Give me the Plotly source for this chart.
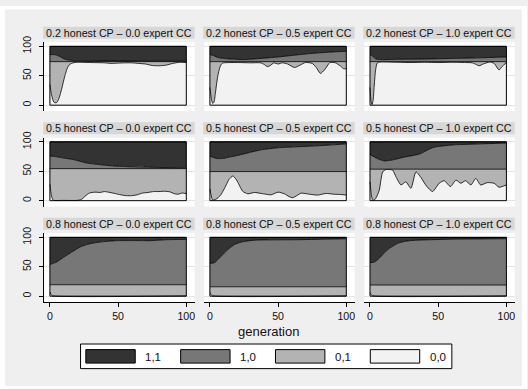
import plotly.graph_objects as go

# ---------------- data (cumulative shares) ----------------
series_names = ["1,1", "1,0", "0,1", "0,0"]
series_colors = ["#333333", "#777777", "#b3b3b3", "#f2f2f2"]
honest_levels = ["0.2", "0.5", "0.8"]
expert_levels = ["0.0", "0.5", "1.0"]
x_ticks = [0, 50, 100]
y_ticks = [0, 50, 100]

# a = top of "0,0"; b = top of "0,1"; c = top of "1,0"; top of "1,1" = 100
p1_gen_a = [0,1,2,3,4,5,6,7,8,9,10,11,12,13,14,15,17,20,30,40,45,50,55,60,65,70,75,80,85,90,95,100]
p1_a = [35,20,10,5,4,4.5,8,14,22,31,41,50,58,64,68,70,72,73,72.5,72,71,71.5,72,72,71,70,67.5,67,68,71,73,72.5]
p1_b = [74, 74]
p1_gen_c = [0,3,5,8,10,13,16,20,100]
p1_c = [86,86,85,82,79,77,76,75.5,75.5]

p2_gen_a = [0,1,2,3,4,5,6,7,8,9,10,20,30,37,40,42,44,47,50,53,57,62,66,70,75,78,81,84,88,92,96,98,100]
p2_a = [30,12,3,5,20,38,52,62,68,71,72,72.5,72,72,69,65.5,67,72,70,72,70,64,68,72.5,71,64,54,60,72.5,72,66,62,62]
p2_b = [74, 74]
p2_gen_c = [0,3,6,10,15,25,40,50,60,70,80,90,100]
p2_c = [86,84,81,79.5,78.5,77.6,80,82,84.5,87,89,90.5,91.6]

p3_gen_a = [0,0.7,1.5,2.3,3,4,5,6,20,30,40,50,60,70,75,78,80,83,88,91,94.6,97,100]
p3_a = [30,8,1,8,30,58,70,73,73,72.5,73,72.5,73,72.5,72,69,67,70,73.5,71,60,66,72.5]
p3_b = [74, 74]
p3_gen_c = [0,2,4,7,20,40,60,80,100]
p3_c = [86,83,79,77.6,78,78.5,79.5,80.5,82]

p4_gen_a = [0,1,2,3,10,20,23,26,29,33,37,40,44,48,52,56,60,64,68,72,76,80,84,88,91,94,97,100]
p4_a = [28,10,2,0.5,0.5,0.5,2,8,13,14.5,14,15.5,14,12,10,8.5,8.5,10,13,14,15.5,15.5,16,15,12,11,13,12]
p4_b = [54.5, 54.5]
p4_gen_c = [0,4,10,17,22,27,34,41.5,50,61,70,80.5,100]
p4_c = [76,75,72.5,70,67,64,62,60,58.5,57.5,57,56.4,55.8]

p5_gen_a = [0,1,2,4,6,8,10,12,14,16.8,19,21,24,27.8,32.7,37.6,41,44.9,50,54.6,58,60.7,64,66.8,73,79,85,91,96,100]
p5_a = [20,8,1,2,5,10,18,27,36,42,37,29,16,11.7,14,12.3,11,10,14.5,11.7,7,5,9,12.8,11,9.5,12.3,11,10.5,9.5]
p5_b = [49.5, 49.5]
p5_gen_c = [0,3,6,10,15,20.5,30,37.6,50,62,74,87,100]
p5_c = [76,73,71.5,72,74.5,77,82.5,86.5,90,91.5,92.7,94.5,96.6]

p6_gen_a = [0,1,2,4,6.8,8,9.3,11.7,14,16.6,19,22.7,26.3,30,33.7,37.3,41.7,45.9,50.7,54.4,59,63,66.6,70,74,77.6,81,86,91,94.6,100]
p6_a = [32,10,0.5,3,18,35,49,53,53,52,40.8,26.8,32,21,49,39.6,24,15.6,29.6,34,24,35,29.6,34,26.8,38,26.8,30.7,29.6,22.9,26.8]
p6_b = [53.6, 53.6]
p6_gen_c = [0,5,10.5,18,25,32,37,42,47,55,62,81,100]
p6_c = [78.7,72,67.6,70,74,77,80,86,91,93.5,95,96.6,98]

p7_gen_a = [0,1,2,100]
p7_a = [7,2,0.5,0.5]
p7_b = [19.5, 19.5]
p7_gen_c = [0,2,4.9,8,12,16,19.5,23,27,31,36.6,42,48.8,60,73,80,85,100]
p7_c = [54,55.5,58,63,69,75,80,84.5,87.7,90,92,93.3,94.4,94.6,94.4,95.3,96,96.6]

p8_gen_a = [0,1,2,100]
p8_a = [6,2,0.5,0.5]
p8_b = [16, 16]
p8_gen_c = [0,3.4,7,10.7,14,18,23,28,35,62,86,100]
p8_c = [55.8,57,65,73.7,81,87.7,92,94,95.5,96,97,97.7]

p9_gen_a = [0,1,2,100]
p9_a = [6,2,0.5,0.5]
p9_b = [19, 19]
p9_gen_c = [0,3.2,7,10.5,14,17.8,21,25,30,37,62,100]
p9_c = [57,58,65,73.7,81,86.5,90.5,93,94.5,95.5,97,97.7]

gen_span = [0, 100]
top_level = [100, 100]

gen_a_list = [p1_gen_a, p2_gen_a, p3_gen_a, p4_gen_a, p5_gen_a, p6_gen_a, p7_gen_a, p8_gen_a, p9_gen_a]
a_list = [p1_a, p2_a, p3_a, p4_a, p5_a, p6_a, p7_a, p8_a, p9_a]
b_list = [p1_b, p2_b, p3_b, p4_b, p5_b, p6_b, p7_b, p8_b, p9_b]
gen_c_list = [p1_gen_c, p2_gen_c, p3_gen_c, p4_gen_c, p5_gen_c, p6_gen_c, p7_gen_c, p8_gen_c, p9_gen_c]
c_list = [p1_c, p2_c, p3_c, p4_c, p5_c, p6_c, p7_c, p8_c, p9_c]

# ---------------- layout geometry (pixels) ----------------
W, H = 528, 389
FONT = "Liberation Sans, Arial, sans-serif"
col_left = [44.3, 204.6, 365.0]
col_w = 150.7
row_top = [36.7, 133.7, 230.7]
row_h = 70.0
x_range = [-4.17, 106.1]
y_range = [-10.0, 107.2]


def fx(p):
    return p / W


def fy(p):
    return 1 - p / H


fig = go.Figure()
shapes = []
annotations = []
layout_axes = {}

edge = dict(color="black", width=0.8)
for i in range(9):
    r, c = divmod(i, 3)
    n = "" if i == 0 else str(i + 1)
    xa, ya = "x" + n, "y" + n
    common = dict(xaxis=xa, yaxis=ya, mode="lines", hoverinfo="skip", showlegend=False)
    fig.add_trace(go.Scatter(x=gen_a_list[i], y=a_list[i], fill="tozeroy",
                             fillcolor=series_colors[3], line=dict(shape="spline", smoothing=0.6, **edge), **common))
    fig.add_trace(go.Scatter(x=gen_span, y=b_list[i], fill="tonexty",
                             fillcolor=series_colors[2], line=edge, **common))
    fig.add_trace(go.Scatter(x=gen_c_list[i], y=c_list[i], fill="tonexty",
                             fillcolor=series_colors[1], line=dict(shape="spline", smoothing=0.6, **edge), **common))
    fig.add_trace(go.Scatter(x=gen_span, y=top_level, fill="tonexty",
                             fillcolor=series_colors[0], line=edge, **common))
    shapes.append(dict(type="rect", xref=xa, yref=ya, x0=gen_span[0], x1=gen_span[1],
                       y0=0, y1=top_level[0], line=dict(color="black", width=1), layer="above"))

    left, top = col_left[c], row_top[r]
    xd = [fx(left), fx(left + col_w)]
    yd = [fy(top + row_h), fy(top)]
    bottom_row = r == 2
    left_col = c == 0
    layout_axes["xaxis" + n] = dict(
        domain=xd, range=x_range, anchor=ya, showgrid=False, zeroline=False,
        showline=bottom_row, linecolor="black", linewidth=1,
        ticks="outside" if bottom_row else "", ticklen=4, tickcolor="black", tickwidth=1,
        tickvals=x_ticks, showticklabels=bottom_row,
        tickfont=dict(family=FONT, size=10.6, color="#111111"), fixedrange=True)
    layout_axes["yaxis" + n] = dict(
        domain=yd, range=y_range, anchor=xa, showgrid=True, gridcolor="#e4e4e4", gridwidth=1,
        zeroline=False, showline=left_col, linecolor="black", linewidth=1,
        ticks="outside" if left_col else "", ticklen=4, tickcolor="black", tickwidth=1,
        tickvals=y_ticks, showticklabels=left_col, tickangle=-90, ticklabelstandoff=4,
        tickfont=dict(family=FONT, size=10.6, color="#111111"), fixedrange=True)

    # strip title
    s_top, s_bot = top - 15.7, top - 3.4
    shapes.append(dict(type="rect", xref="paper", yref="paper", x0=fx(left - 1), x1=fx(left + col_w),
                       y0=fy(s_bot), y1=fy(s_top), fillcolor="#d7d7d7", line=dict(width=0), layer="below"))
    annotations.append(dict(xref="paper", yref="paper", x=fx(left + col_w / 2 - 0.5), y=fy((s_top + s_bot) / 2),
                            text=f"{honest_levels[r]} honest CP \u2013 {expert_levels[c]} expert CC",
                            showarrow=False, xanchor="center", yanchor="middle",
                            font=dict(family=FONT, size=10.7, color="#111111")))

# axis title
annotations.append(dict(xref="paper", yref="paper", x=fx(268.8), y=fy(331), text="generation",
                        showarrow=False, xanchor="center", yanchor="middle",
                        font=dict(family=FONT, size=13, color="#111111")))

# legend box
shapes.append(dict(type="rect", xref="paper", yref="paper", x0=fx(80.7), x1=fx(452.7), y0=fy(368.3), y1=fy(343.3),
                   fillcolor="white", line=dict(color="black", width=1), layer="below"))
sw_left = [86, 181, 276, 371]
for k, name in enumerate(series_names):
    shapes.append(dict(type="rect", xref="paper", yref="paper", x0=fx(sw_left[k]), x1=fx(sw_left[k] + 49.5),
                       y0=fy(362.7), y1=fy(349), fillcolor=series_colors[k],
                       line=dict(color="black", width=1), layer="above"))
    annotations.append(dict(xref="paper", yref="paper", x=fx(sw_left[k] + 57.5), y=fy(356), text=name,
                            showarrow=False, xanchor="left", yanchor="middle",
                            font=dict(family=FONT, size=11.5, color="#111111")))

# white outer border around the grey graph region
for (x0, x1, y0, y1) in [(0, 5, 0, H), (523, W, 0, H), (0, W, 0, 3.5), (0, W, 386, H)]:
    shapes.append(dict(type="rect", xref="paper", yref="paper", x0=fx(x0), x1=fx(x1), y0=fy(y1), y1=fy(y0),
                       fillcolor="white", line=dict(width=0), layer="above"))

fig.update_layout(
    width=W, height=H, margin=dict(l=0, r=0, t=0, b=0),
    paper_bgcolor="#efefef", plot_bgcolor="white",
    showlegend=False, shapes=shapes, annotations=annotations,
    **layout_axes)

fig.write_html("out.html")
